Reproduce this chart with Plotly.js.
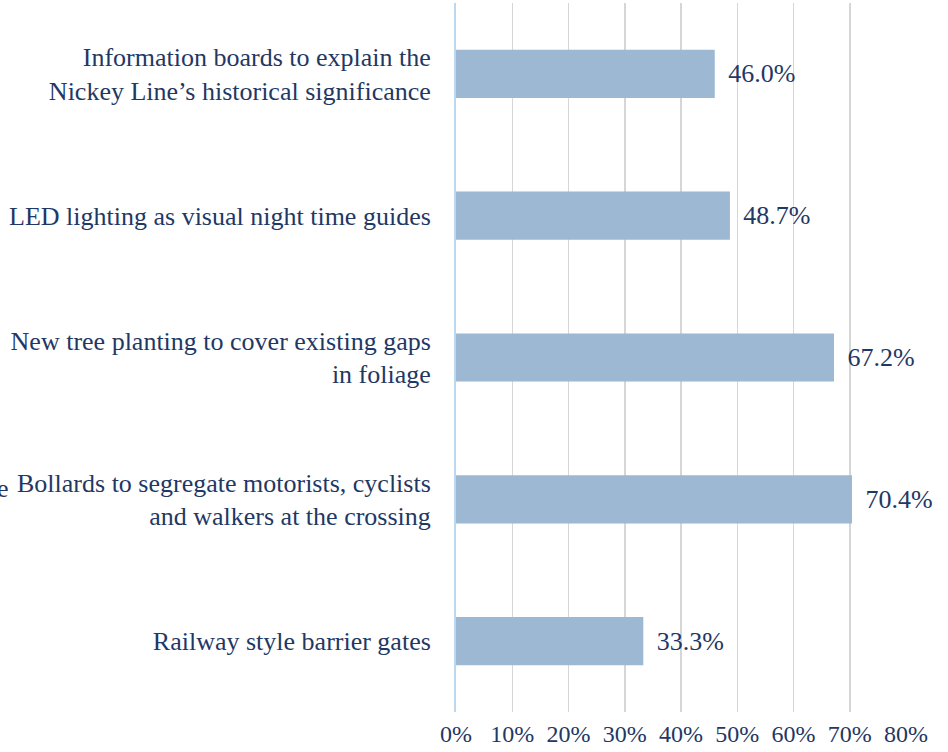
<!DOCTYPE html>
<html>
<head>
<meta charset="utf-8">
<script src="https://cdn.plot.ly/plotly-3.0.1.min.js"></script>
<style>html,body{margin:0;padding:0;background:#fff;}#chart{width:948px;height:752px;}</style>
</head>
<body>
<div id="chart"></div>
<script>
const categories = [
  "Information boards to explain the<br>Nickey Line’s historical significance",
  "LED lighting as visual night time guides",
  "New tree planting to cover existing gaps<br>in foliage",
  "Bollards to segregate motorists, cyclists<br>and walkers at the crossing",
  "Railway style barrier gates"
];
const values = [46.0, 48.7, 67.2, 70.4, 33.3];
const tickVals = [0, 10, 20, 30, 40, 50, 60, 70, 80];
const tickText = ["0%", "10%", "20%", "30%", "40%", "50%", "60%", "70%", "80%"];

const navy = "#1f3864";
const font = {family: "Liberation Serif, Times New Roman, serif", size: 26, color: navy};
const xfont = {family: "Liberation Serif, Times New Roman, serif", size: 24, color: navy};

const trace = {
  type: "bar",
  orientation: "h",
  y: categories,
  x: values,
  marker: {color: "#9cb8d3"},
  text: values.map(v => "\u2009\u2009" + v.toFixed(1) + "%"),
  textposition: "outside",
  textfont: font,
  cliponaxis: false,
  hoverinfo: "none"
};

const layout = {
  width: 948, height: 752,
  margin: {l: 456, r: 42, t: 3, b: 40},
  paper_bgcolor: "#fff", plot_bgcolor: "#fff",
  font: font,
  showlegend: false,
  bargap: 0.66,
  xaxis: {
    range: [0, 80],
    tickvals: tickVals, ticktext: tickText,
    showgrid: true, gridcolor: "#d6d6d6", gridwidth: 1.5,
    zeroline: false, showline: false, ticks: "",
    tickfont: xfont, ticklabelstandoff: 5, fixedrange: true
  },
  yaxis: {
    autorange: "reversed",
    showline: true, linecolor: "#bdd7ee", linewidth: 2,
    ticks: "", tickfont: font, ticklabelstandoff: 18,
    showgrid: false, zeroline: false, fixedrange: true
  },
  annotations: [{
    xref: "paper", yref: "paper", x: -456/450, y: 0.315,
    xanchor: "left", yanchor: "middle", text: "e",
    showarrow: false, font: font, xshift: -5
  }]
};

Plotly.newPlot("chart", [trace], layout, {displayModeBar: false, staticPlot: true});
</script>
</body>
</html>
